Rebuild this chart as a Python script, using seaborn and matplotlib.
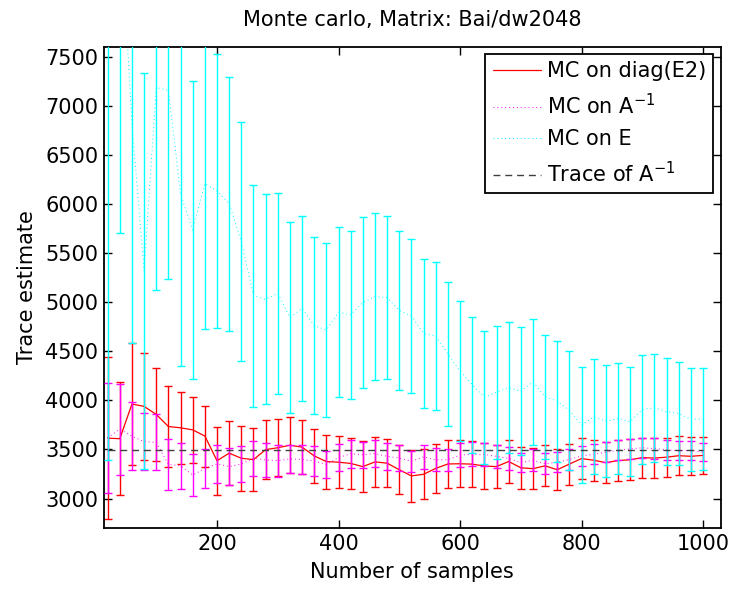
import matplotlib
matplotlib.use("Agg")
import matplotlib.pyplot as plt
import seaborn as sns

# Number of Monte Carlo samples used for each estimate
samples = list(range(20, 1001, 20))

# MC on diag(E2): mean estimate and half-width of error bar
diag_e2_mean = [3615, 3609, 3962, 3938, 3856, 3733, 3720, 3699, 3636, 3385,
                3462, 3410, 3396, 3498, 3517, 3543, 3523, 3434, 3376, 3370,
                3357, 3325, 3373, 3360, 3293, 3230, 3247, 3307, 3352, 3354,
                3350, 3331, 3325, 3377, 3313, 3304, 3333, 3293, 3351, 3407,
                3390, 3365, 3386, 3395, 3416, 3412, 3421, 3436, 3430, 3439]
diag_e2_err = [825, 577, 625, 543, 475, 416, 365, 335, 311, 346,
               329, 333, 319, 300, 290, 288, 275, 277, 275, 265,
               263, 258, 253, 246, 248, 262, 253, 250, 241, 238,
               233, 236, 221, 216, 212, 210, 209, 210, 209, 211,
               208, 212, 208, 206, 202, 200, 199, 197, 194, 190]

# MC on A^-1
ainv_mean = [3619, 3706, 3634, 3580, 3571, 3347, 3334, 3239, 3305, 3352,
             3325, 3352, 3410, 3393, 3386, 3404, 3397, 3382, 3346, 3418,
             3456, 3446, 3458, 3429, 3413, 3378, 3424, 3393, 3395, 3442,
             3449, 3449, 3429, 3408, 3365, 3390, 3354, 3369, 3398, 3434,
             3450, 3472, 3490, 3505, 3517, 3509, 3497, 3485, 3490, 3472]
ainv_err = [560, 464, 348, 294, 285, 258, 234, 210, 202, 196,
            185, 179, 179, 175, 162, 145, 151, 154, 141, 140,
            143, 132, 134, 136, 128, 110, 124, 117, 112, 122,
            122, 116, 115, 115, 97, 110, 108, 104, 105, 104,
            103, 103, 102, 100, 102, 103, 102, 97, 95, 94]

# MC on E
e_mean = [8200, 9000, 6820, 5317, 7185, 7154, 6100, 5734, 6207, 6131,
          6002, 5617, 5066, 5028, 5088, 4843, 4936, 4759, 4717, 4896,
          4871, 4995, 5057, 5045, 4915, 4856, 4681, 4655, 4471, 4297,
          4159, 4031, 4082, 4128, 4092, 4187, 4036, 3991, 3897, 3748,
          3831, 3789, 3814, 3782, 3907, 3923, 3885, 3865, 3807, 3809]
e_err = [4805, 3300, 2234, 2013, 2060, 1917, 1755, 1522, 1479, 1392,
         1294, 1214, 1131, 1070, 1021, 974, 940, 903, 888, 867,
         855, 871, 855, 833, 807, 786, 761, 751, 730, 712,
         693, 677, 677, 666, 653, 639, 631, 616, 604, 587,
         585, 574, 565, 557, 557, 548, 541, 528, 524, 516]

# Exact trace of the inverse
trace_ainv = 3490

sns.set_theme(style="ticks")
plt.rcParams["font.family"] = ["DejaVu Sans"]
plt.rcParams["mathtext.fontset"] = "dejavusans"
plt.rcParams["text.color"] = "black"
plt.rcParams["axes.labelcolor"] = "black"

fig, ax = plt.subplots(figsize=(7.34, 5.90), dpi=100)
fig.subplots_adjust(left=0.1417, right=0.9819, top=0.9208, bottom=0.1051)

series = [
    (diag_e2_mean, diag_e2_err, "#ff0000", "-", 0.9, "MC on diag(E2)"),
    (ainv_mean, ainv_err, "#ff00ff", (0, (1, 3)), 0.7, "MC on A$^{-1}$"),
    (e_mean, e_err, "#00ffff", (0, (1, 3)), 0.7, "MC on E"),
]

for k, (mean, err, color, ls, lw, label) in enumerate(series):
    ax.errorbar(samples, mean, yerr=err, fmt="none", ecolor=color,
                elinewidth=1.0, capsize=3.2, capthick=1.0, zorder=2 + k)
    sns.lineplot(x=samples, y=mean, color=color, linestyle=ls, linewidth=lw,
                 label=label, ax=ax, zorder=2.5 + k, sort=False)

ax.plot([samples[0], samples[-1]], [trace_ainv, trace_ainv], color="0.25",
        linestyle=(0, (5, 3.5)), linewidth=1.0, label="Trace of A$^{-1}$",
        zorder=10)

ax.set_xlim(14, 1029)
ax.set_ylim(2700, 7600)
ax.set_xticks([200, 400, 600, 800, 1000])
ax.set_yticks(list(range(3000, 7501, 500)))

ax.set_title("Monte carlo, Matrix: Bai/dw2048", fontsize=15, pad=15)
ax.set_xlabel("Number of samples", fontsize=15, labelpad=6)
ax.set_ylabel("Trace estimate", fontsize=15, labelpad=6)

ax.tick_params(direction="in", top=True, right=True, length=6, width=1,
               labelsize=15, pad=4, colors="black")
for sp in ax.spines.values():
    sp.set_linewidth(1.3)
    sp.set_color("black")

leg = ax.legend(loc="upper right", frameon=True, fancybox=False,
                edgecolor="black", framealpha=1, fontsize=15,
                handlelength=2.3, handletextpad=0.3, borderaxespad=0.35,
                labelspacing=0.55, borderpad=0.35)
leg.get_frame().set_linewidth(1.3)

fig.savefig("out.png", dpi=100)
